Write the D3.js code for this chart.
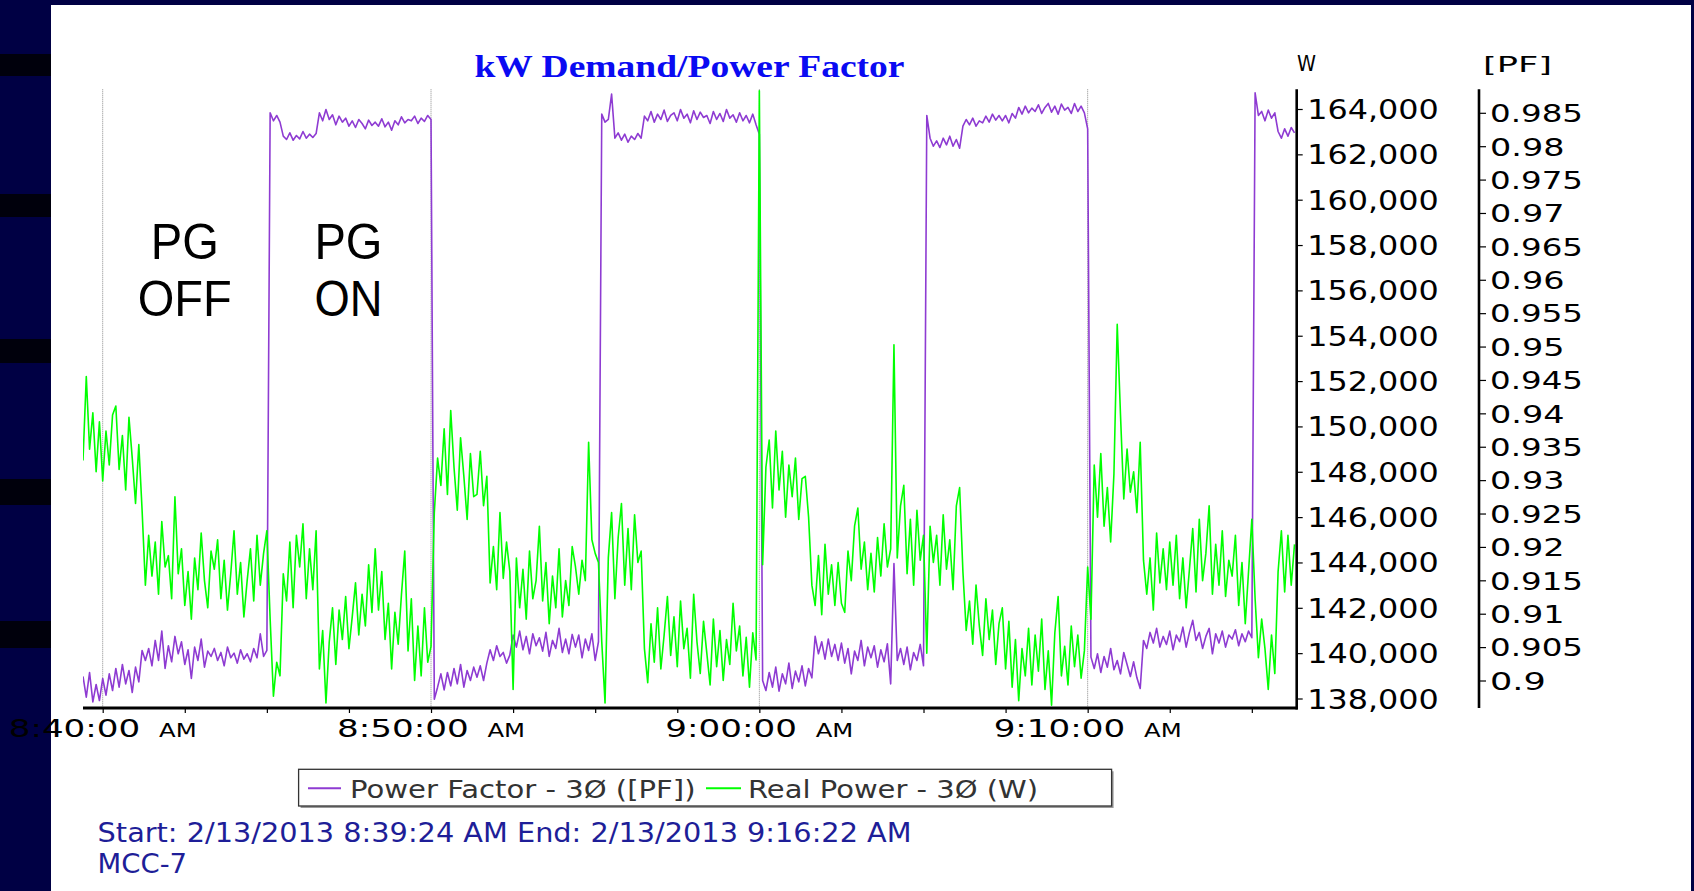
<!DOCTYPE html>
<html>
<head>
<meta charset="utf-8">
<script src="https://cdn.jsdelivr.net/npm/d3@7"></script>
<style>
  html, body { margin: 0; padding: 0; background: #000044; }
  svg { display: block; }
</style>
</head>
<body>
<div id="chart"></div>
<script>
// Canvas size
const width = 1694;
const height = 891;

// Logging window: one reading every 6 s from 8:39:24 AM (one row = one minute)
const startTime = new Date(2013, 1, 13, 8, 39, 24);
const endTime = new Date(2013, 1, 13, 9, 16, 22);
const sampleSeconds = 6;

// Real Power - 3Ø, in kW
const realPowerKW = [
  148.5, 152.2, 149.0, 150.6, 148.0, 150.2, 147.6, 149.8, 148.3, 150.5,
  150.9, 148.1, 149.6, 147.2, 150.4, 148.6, 146.6, 149.2, 146.3, 143.0,
  145.2, 143.4, 144.9, 142.6, 145.8, 143.8, 144.3, 142.4, 146.9, 143.5,
  144.6, 142.1, 143.6, 141.5, 144.2, 142.8, 145.3, 143.2, 142.0, 144.5,
  143.7, 145.0, 142.4, 144.1, 141.9, 143.5, 145.4, 142.6, 144.0, 141.6,
  143.2, 144.6, 142.3, 145.2, 143.0, 144.4, 145.4, 141.5, 138.1, 139.6,
  139.0, 143.5, 142.3, 144.9, 142.0, 145.2, 143.8, 145.7, 142.4, 144.6,
  142.8, 145.4, 139.3, 141.0, 137.8, 140.5, 142.0, 139.5, 141.9, 140.6,
  142.5, 140.2, 141.6, 143.1, 140.8, 142.6, 141.2, 143.9, 141.8, 144.6,
  141.9, 143.6, 140.6, 142.2, 139.3, 141.8, 140.4, 142.6, 144.5, 140.1,
  142.4, 138.8, 141.2, 139.0, 142.0, 139.6, 140.3, 146.2, 148.6, 147.4,
  149.9, 147.0, 150.7, 148.2, 146.3, 149.5, 147.8, 145.9, 148.8, 146.9,
  147.0, 148.9, 146.5, 147.8, 143.1, 144.7, 142.8, 146.2, 143.3, 144.9,
  143.6, 138.4, 144.2, 142.0, 143.7, 141.5, 144.5, 142.4, 143.2, 145.6,
  142.3, 144.0, 141.3, 143.4, 142.0, 144.6, 141.6, 143.2, 142.1, 144.7,
  143.8, 142.6, 144.1, 143.2, 149.3, 145.0, 144.4, 144.0, 140.5, 137.8,
  144.2, 146.2, 142.4, 145.1, 146.6, 143.0, 145.5, 142.8, 146.1, 144.0,
  144.5, 140.2, 138.7, 141.3, 139.6, 142.0, 139.3, 140.8, 142.5, 139.9,
  141.6, 139.4, 142.3, 140.2, 141.1, 138.9, 142.6, 140.5, 139.1, 141.4,
  140.0, 138.6, 141.5, 139.4, 141.0, 138.8, 140.6, 139.5, 142.2, 140.1,
  141.2, 139.0, 140.7, 138.5, 140.9, 139.7, 164.8, 143.9, 148.2, 149.4,
  146.4, 149.8, 147.2, 148.9, 146.0, 148.3, 146.9, 148.6, 145.9, 147.7,
  147.8, 146.0, 143.0, 142.1, 144.3, 141.7, 144.8, 142.6, 143.9, 142.1,
  144.0, 142.2, 141.8, 144.5, 143.2, 145.6, 146.4, 143.7, 144.9, 142.8,
  144.4, 142.7, 145.1, 143.4, 145.7, 143.8, 144.6, 153.6, 144.2, 146.5,
  147.4, 143.5, 145.9, 143.0, 146.3, 144.1, 145.2, 140.0, 145.6, 144.0,
  145.2, 143.0, 146.1, 143.7, 145.0, 142.8, 146.5, 147.3, 143.6, 141.0,
  142.3, 140.4, 143.0, 141.2, 139.9, 142.4, 140.6, 141.9, 139.5, 141.3,
  142.0, 139.3, 141.4, 138.5, 140.6, 137.9, 140.2, 139.0, 141.1, 138.6,
  140.8, 139.2, 141.5, 138.4, 140.1, 137.7, 140.9, 142.5, 139.0, 140.3,
  138.6, 141.2, 139.4, 140.8, 138.9, 140.1, 143.8, 141.5, 148.3, 146.0,
  148.8, 145.6, 147.3, 144.9, 147.9, 154.5, 150.5, 146.8, 149.0, 147.1,
  148.0, 146.2, 149.3, 144.1, 142.6, 144.2, 141.9, 145.3, 143.1, 144.6,
  142.8, 144.9, 143.0, 145.2, 142.4, 144.2, 142.0, 143.7, 145.5, 142.7,
  145.9, 143.2, 144.4, 146.5, 142.6, 144.8, 143.0, 145.4, 142.5, 144.1,
  143.4, 145.2, 142.1, 144.0, 141.3, 143.6, 145.9, 142.4, 139.8, 141.5,
  140.2, 138.4, 140.8, 139.1, 143.6, 145.4, 142.7, 145.2, 143.0, 144.8
];

// Power Factor - 3Ø
const powerFactor = [
  0.9006, 0.8975, 0.9012, 0.8968, 0.8994, 0.8970, 0.9003, 0.8978, 0.9010, 0.8985,
  0.9018, 0.8990, 0.9024, 0.8995, 0.9015, 0.8982, 0.9020, 0.8998, 0.9045, 0.9030,
  0.9048, 0.9022, 0.9060, 0.9030, 0.9074, 0.9018, 0.9052, 0.9028, 0.9066, 0.9040,
  0.9058, 0.9024, 0.9046, 0.9003, 0.9050, 0.9030, 0.9062, 0.9020, 0.9044, 0.9036,
  0.9048, 0.9030, 0.9042, 0.9022, 0.9050, 0.9034, 0.9041, 0.9026, 0.9046, 0.9032,
  0.9040, 0.9028, 0.9048, 0.9034, 0.9070, 0.9036, 0.9045, 0.9850, 0.9838, 0.9846,
  0.9836, 0.9815, 0.9810, 0.9820, 0.9809, 0.9816, 0.9811, 0.9822, 0.9812, 0.9818,
  0.9813, 0.9819, 0.9850, 0.9838, 0.9855, 0.9840, 0.9847, 0.9832, 0.9845, 0.9836,
  0.9842, 0.9830, 0.9838, 0.9828, 0.9840, 0.9834, 0.9826, 0.9839, 0.9831, 0.9836,
  0.9830, 0.9841, 0.9829, 0.9836, 0.9824, 0.9838, 0.9832, 0.9844, 0.9835, 0.9840,
  0.9838, 0.9845, 0.9834, 0.9842, 0.9837, 0.9846, 0.9840, 0.8972, 0.8990, 0.9010,
  0.8986, 0.9012, 0.8992, 0.9018, 0.8995, 0.9024, 0.8990, 0.9015, 0.9000, 0.9020,
  0.9005, 0.9022, 0.9000, 0.9026, 0.9046, 0.9030, 0.9052, 0.9036, 0.9042, 0.9026,
  0.9038, 0.9068, 0.9050, 0.9074, 0.9046, 0.9066, 0.9040, 0.9070, 0.9052, 0.9064,
  0.9044, 0.9072, 0.9036, 0.9060, 0.9048, 0.9078, 0.9042, 0.9062, 0.9040, 0.9069,
  0.9050, 0.9068, 0.9034, 0.9062, 0.9045, 0.9070, 0.9030, 0.9058, 0.9848, 0.9836,
  0.9840, 0.9878, 0.9812, 0.9820, 0.9809, 0.9818, 0.9806, 0.9815, 0.9810, 0.9819,
  0.9812, 0.9845, 0.9838, 0.9852, 0.9836, 0.9848, 0.9840, 0.9854, 0.9837, 0.9846,
  0.9850, 0.9838, 0.9855, 0.9842, 0.9848, 0.9835, 0.9853, 0.9840, 0.9851, 0.9843,
  0.9846, 0.9834, 0.9852, 0.9840, 0.9849, 0.9837, 0.9855, 0.9842, 0.9847, 0.9836,
  0.9850, 0.9838, 0.9846, 0.9835, 0.9848, 0.9832, 0.9818, 0.9000, 0.8985, 0.9012,
  0.8990, 0.9020, 0.8984, 0.9010, 0.8995, 0.9026, 0.8988, 0.9014, 0.8998, 0.9022,
  0.8992, 0.9018, 0.9004, 0.9066, 0.9040, 0.9058, 0.9032, 0.9062, 0.9036, 0.9054,
  0.9030, 0.9056, 0.9026, 0.9048, 0.9010, 0.9044, 0.9030, 0.9060, 0.9022, 0.9050,
  0.9034, 0.9052, 0.9020, 0.9046, 0.9028, 0.9055, 0.8995, 0.9175, 0.9030, 0.9048,
  0.9024, 0.9050, 0.9016, 0.9042, 0.9030, 0.9054, 0.9022, 0.9846, 0.9812, 0.9800,
  0.9808, 0.9798, 0.9812, 0.9802, 0.9815, 0.9800, 0.9810, 0.9797, 0.9830, 0.9840,
  0.9832, 0.9842, 0.9830, 0.9838, 0.9835, 0.9845, 0.9836, 0.9848, 0.9839, 0.9846,
  0.9838, 0.9846, 0.9835, 0.9849, 0.9842, 0.9858, 0.9848, 0.9860, 0.9850, 0.9857,
  0.9852, 0.9862, 0.9849, 0.9858, 0.9864, 0.9851, 0.9860, 0.9848, 0.9863, 0.9854,
  0.9858, 0.9849, 0.9864, 0.9852, 0.9860, 0.9850, 0.9826, 0.9035, 0.9018, 0.9040,
  0.9012, 0.9036, 0.9020, 0.9048, 0.9016, 0.9030, 0.9010, 0.9042, 0.9024, 0.9006,
  0.9028, 0.9004, 0.8988, 0.9060, 0.9048, 0.9072, 0.9056, 0.9078, 0.9050, 0.9066,
  0.9054, 0.9074, 0.9046, 0.9068, 0.9058, 0.9080, 0.9050, 0.9072, 0.9090, 0.9060,
  0.9072, 0.9048, 0.9066, 0.9078, 0.9040, 0.9070, 0.9056, 0.9074, 0.9050, 0.9068,
  0.9062, 0.9076, 0.9052, 0.9070, 0.9058, 0.9074, 0.9064, 0.9880, 0.9846, 0.9852,
  0.9838, 0.9854, 0.9842, 0.9850, 0.9822, 0.9812, 0.9826, 0.9815, 0.9828, 0.9820
];

// Axis tick labels
const wTicks = [138000, 140000, 142000, 144000, 146000, 148000, 150000, 152000,
                154000, 156000, 158000, 160000, 162000, 164000];
const pfTicks = [0.9, 0.905, 0.91, 0.915, 0.92, 0.925, 0.93, 0.935, 0.94,
                 0.945, 0.95, 0.955, 0.96, 0.965, 0.97, 0.975, 0.98, 0.985];
const timeTicks = ["8:40:00", "8:50:00", "9:00:00", "9:10:00"];

// Texts
const titleText = "kW Demand/Power Factor";
const seriesNames = ["Power Factor - 3Ø ([PF])", "Real Power - 3Ø (W)"];
const seriesColors = ["#8e3bd2", "#00ff00"];
const footerLines = ["Start: 2/13/2013 8:39:24 AM End: 2/13/2013 9:16:22 AM", "MCC-7"];
const annotations = [
  { time: "8:42:30", lines: ["PG", "OFF"] },
  { time: "8:47:29", lines: ["PG", "ON"] }
];

const toDate = s => {
  const [h, m, sec] = s.split(":").map(Number);
  return new Date(2013, 1, 13, h, m, sec);
};
const sampleTime = i => new Date(startTime.getTime() + i * sampleSeconds * 1000);

const pfData = powerFactor.map((v, i) => ({ t: sampleTime(i), v }));
const wData = realPowerKW.map((v, i) => ({ t: sampleTime(i), v: v * 1000 }));

// Layout
const plot = { left: 83, right: 1296.7, top: 89.3, bottom: 708 };
const pfAxisX = 1479;

const svg = d3.select("#chart").append("svg")
    .attr("width", width)
    .attr("height", height);

// Slide background
svg.append("rect").attr("width", width).attr("height", height).attr("fill", "#000044");
svg.append("g").selectAll("rect")
    .data([[54, 22], [194, 23], [339, 24], [479, 26], [621, 27]])
    .enter().append("rect")
    .attr("x", 0).attr("y", d => d[0]).attr("width", 51).attr("height", d => d[1])
    .attr("fill", "#00000c");
svg.append("rect")
    .attr("x", 51).attr("y", 5).attr("width", 1640).attr("height", height - 5)
    .attr("fill", "#ffffff");

// Scales
const x = d3.scaleTime().domain([startTime, endTime]).range([plot.left, plot.right]);
const yW = d3.scaleLinear().domain([138000, 164000]).range([698.5, 109]);
const yPF = d3.scaleLinear().domain([0.9, 0.985]).range([680.5, 112.8]);

// Title
svg.append("text")
    .attr("x", 474.5).attr("y", 76.7)
    .attr("textLength", 430).attr("lengthAdjust", "spacingAndGlyphs")
    .style("font-family", "'Liberation Serif', 'Times New Roman', serif")
    .style("font-weight", "bold")
    .style("font-size", "32px")
    .attr("fill", "#0a0af2")
    .text(titleText);

// Dotted time grid lines
svg.append("g").selectAll("line")
    .data(timeTicks.map(toDate))
    .enter().append("line")
    .attr("x1", d => x(d)).attr("x2", d => x(d))
    .attr("y1", plot.top).attr("y2", plot.bottom)
    .attr("stroke", "#8a8a8a").attr("stroke-width", 1)
    .attr("stroke-dasharray", "1,1");

// Annotations
const annoG = svg.append("g")
    .style("font-family", "'Liberation Sans', Arial, sans-serif")
    .style("font-size", "50px")
    .attr("fill", "#000");
annotations.forEach(a => {
  a.lines.forEach((line, i) => {
    annoG.append("text")
        .attr("x", x(toDate(a.time)))
        .attr("y", 258.5 + i * 57.7)
        .attr("text-anchor", "middle")
        .attr("textLength", line.length === 3 ? 94 : 68)
        .attr("lengthAdjust", "spacingAndGlyphs")
        .text(line);
  });
});

// Series lines
svg.append("clipPath").attr("id", "plot-clip")
  .append("rect")
    .attr("x", plot.left).attr("y", plot.top)
    .attr("width", plot.right - plot.left).attr("height", plot.bottom - plot.top);

const pfLine = d3.line().x(d => x(d.t)).y(d => yPF(d.v));
const wLine = d3.line().x(d => x(d.t)).y(d => yW(d.v));

const lines = svg.append("g").attr("clip-path", "url(#plot-clip)");
lines.append("path")
    .datum(pfData)
    .attr("d", pfLine)
    .attr("fill", "none")
    .attr("stroke", seriesColors[0])
    .attr("stroke-width", 1.6)
    .attr("stroke-linejoin", "round");
lines.append("path")
    .datum(wData)
    .attr("d", wLine)
    .attr("fill", "none")
    .attr("stroke", seriesColors[1])
    .attr("stroke-width", 1.6)
    .attr("stroke-linejoin", "round");

// Shared tick label style
const labelFont = "'DejaVu Sans', Verdana, sans-serif";
const cell = 18.8;

// X axis
const minorTimes = d3.range(0, 15).map(k => new Date(toDate("8:40:00").getTime() + k * 150000));
svg.append("g")
    .attr("transform", `translate(0,${plot.bottom})`)
    .call(d3.axisBottom(x).tickValues(minorTimes).tickSize(5).tickFormat(""))
    .call(g => g.select(".domain").remove())
    .call(g => g.selectAll("line").attr("stroke", "#000").attr("stroke-width", 1.2));
svg.append("line")
    .attr("x1", plot.left).attr("x2", plot.right + 1)
    .attr("y1", plot.bottom).attr("y2", plot.bottom)
    .attr("stroke", "#000").attr("stroke-width", 3);

const xLabels = svg.append("g").style("font-family", labelFont).attr("fill", "#000");
timeTicks.forEach(s => {
  const cx = x(toDate(s));
  const left = cx - 10 * cell / 2;
  const t = xLabels.append("text").attr("y", 736.7);
  t.append("tspan")
      .attr("x", left)
      .style("font-size", "25px")
      .attr("textLength", s.length * cell)
      .attr("lengthAdjust", "spacingAndGlyphs")
      .text(s);
  t.append("tspan")
      .attr("x", left + 8 * cell)
      .style("font-size", "20px")
      .attr("textLength", 2 * cell)
      .attr("lengthAdjust", "spacingAndGlyphs")
      .text("AM");
});

// W axis
const wFmt = d3.format(",");
const wAxisG = svg.append("g").attr("transform", `translate(${plot.right},0)`);
wAxisG.call(d3.axisRight(yW).tickValues(d3.range(138000, 164900, 500)).tickSize(4).tickFormat(""))
    .call(g => g.select(".domain").remove());
wAxisG.call(d3.axisRight(yW).tickValues(wTicks).tickSize(6).tickFormat(wFmt))
    .call(g => g.selectAll(".domain").remove())
    .call(g => g.selectAll("line").attr("stroke", "#000").attr("stroke-width", 1.2))
    .call(g => g.selectAll("text")
        .attr("x", 10.5).attr("dy", null).attr("y", 9.5)
        .attr("fill", "#000")
        .attr("textLength", d => wFmt(d).length * cell)
        .attr("lengthAdjust", "spacingAndGlyphs")
        .style("font-family", labelFont)
        .style("font-size", "26px")
        .attr("text-anchor", "start"));
wAxisG.append("line")
    .attr("x1", 0).attr("x2", 0).attr("y1", plot.top).attr("y2", plot.bottom + 1.5)
    .attr("stroke", "#000").attr("stroke-width", 2.6);

// PF axis
const pfFmt = d => String(+d.toFixed(3));
const pfAxisG = svg.append("g").attr("transform", `translate(${pfAxisX},0)`);
pfAxisG.call(d3.axisRight(yPF).tickValues(d3.range(0, 93).map(k => 0.896 + k * 0.001)).tickSize(4).tickFormat(""))
    .call(g => g.select(".domain").remove());
pfAxisG.call(d3.axisRight(yPF).tickValues(pfTicks).tickSize(7).tickFormat(pfFmt))
    .call(g => g.selectAll(".domain").remove())
    .call(g => g.selectAll("line").attr("stroke", "#000").attr("stroke-width", 1.2))
    .call(g => g.selectAll("text")
        .attr("x", 11).attr("dy", null).attr("y", 8.8)
        .attr("fill", "#000")
        .attr("textLength", d => pfFmt(d).length * 18.6)
        .attr("lengthAdjust", "spacingAndGlyphs")
        .style("font-family", labelFont)
        .style("font-size", "24px")
        .attr("text-anchor", "start"));
pfAxisG.selectAll(".tick line").filter(d => d < yPF.invert(plot.bottom) || d > yPF.invert(plot.top)).remove();
pfAxisG.append("line")
    .attr("x1", 0).attr("x2", 0).attr("y1", plot.top).attr("y2", plot.bottom)
    .attr("stroke", "#000").attr("stroke-width", 2.6);

// Axis titles
svg.append("text")
    .attr("x", 1297).attr("y", 71)
    .attr("textLength", 19).attr("lengthAdjust", "spacingAndGlyphs")
    .style("font-family", labelFont).style("font-size", "22px")
    .text("W");
svg.append("text")
    .attr("x", 1483).attr("y", 71.5)
    .attr("textLength", 69).attr("lengthAdjust", "spacingAndGlyphs")
    .style("font-family", labelFont).style("font-size", "22px")
    .text("[PF]");

// Legend
const legend = svg.append("g");
legend.append("rect")
    .attr("x", 300.6).attr("y", 771.3).attr("width", 813).attr("height", 36.7)
    .attr("fill", "#9a9a9a");
legend.append("rect")
    .attr("x", 298.6).attr("y", 769.3).attr("width", 813).attr("height", 36.7)
    .attr("fill", "#fff").attr("stroke", "#333").attr("stroke-width", 1.3);
const legendItems = [
  { x1: 308, x2: 341, tx: 350, tw: 345.5 },
  { x1: 706, x2: 741, tx: 748, tw: 290 }
];
legendItems.forEach((it, i) => {
  legend.append("line")
      .attr("x1", it.x1).attr("x2", it.x2).attr("y1", 788.3).attr("y2", 788.3)
      .attr("stroke", seriesColors[i]).attr("stroke-width", 2);
  legend.append("text")
      .attr("x", it.tx).attr("y", 798.3)
      .attr("textLength", it.tw).attr("lengthAdjust", "spacingAndGlyphs")
      .style("font-family", labelFont).style("font-size", "25px")
      .attr("fill", "#333")
      .text(seriesNames[i]);
});

// Footer
svg.append("text")
    .attr("x", 97.6).attr("y", 841.7)
    .attr("textLength", 814).attr("lengthAdjust", "spacingAndGlyphs")
    .style("font-family", labelFont).style("font-size", "26px")
    .attr("fill", "#1e1e98")
    .text(footerLines[0]);
svg.append("text")
    .attr("x", 97.6).attr("y", 873.3)
    .attr("textLength", 89.5).attr("lengthAdjust", "spacingAndGlyphs")
    .style("font-family", labelFont).style("font-size", "26px")
    .attr("fill", "#1e1e98")
    .text(footerLines[1]);
</script>
</body>
</html>
